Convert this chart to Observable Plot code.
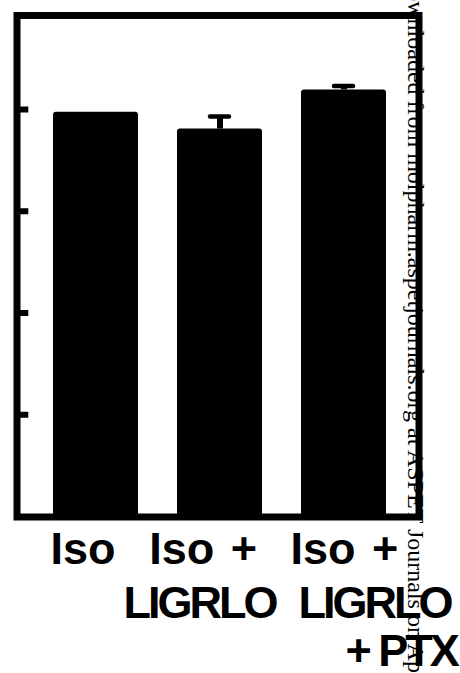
<!DOCTYPE html>
<html><head><meta charset="utf-8">
<script src="https://cdn.jsdelivr.net/npm/d3@7"></script>
<script src="https://cdn.jsdelivr.net/npm/@observablehq/plot@0.6"></script>
<style>html,body{margin:0;padding:0;background:#fff;overflow:hidden}</style>
</head><body><div id="chart"></div>
<script>
const categories = ["Iso", "Iso + LIGRLO", "Iso + LIGRLO + PTX"];
const values = [99.3, 95.2, 104.8];
const errors = [0, 3.1, 1.0];
const yTicks = [25, 50, 75, 100];
const labelLine1 = ["Iso", "Iso +", "Iso +"];
const labelLine2 = ["", "LIGRLO", "LIGRLO"];
const labelLine3 = ["", "", "+ PTX"];
const watermark = "Downloaded from molpharm.aspetjournals.org at ASPET Journals on April 18, 2024";

const rows = categories.map((c, i) => ({cat: c, value: values[i], err: errors[i]}));
const errRows = rows.filter(d => d.err > 0);

const labelStyle = {fontFamily: "'Liberation Sans', Arial, Helvetica, sans-serif", fontWeight: "bold", fontSize: 45, fill: "black", textAnchor: "start", lineAnchor: "bottom", frameAnchor: "bottom"};
const lines = [labelLine1, labelLine2, labelLine3];
const lineDy = [46.5, 100.5, 148.5];
const lineDx = [[-45.5, -70.8, -53.5], [0, -96.5, -45.5], [0, 0, 1.5]];

const labelMarks = [];
lines.forEach((line, r) => line.forEach((t, i) => {
  if (t) labelMarks.push(Plot.text([categories[i]], {x: d => d, text: () => t, dx: lineDx[r][i], dy: lineDy[r], ...labelStyle}));
}));

const svg = Plot.plot({
  width: 460,
  height: 673,
  marginLeft: 16.5,
  marginRight: 41.5,
  marginTop: 15,
  marginBottom: 156.5,
  style: {background: "white", overflow: "visible"},
  x: {domain: categories, range: [20, 413], paddingInner: 0.315, paddingOuter: 0.242, align: 0.55, axis: null},
  y: {domain: [0, 100], range: [516, 109], axis: null},
  marks: [
    Plot.barY(rows, {x: "cat", y: "value", fill: "black", rx: 3}),
    Plot.ruleX(errRows, {x: "cat", y1: "value", y2: d => d.value + d.err, stroke: "black", strokeWidth: 6}),
    Plot.tickY(errRows, {x: "cat", y: d => d.value + d.err, stroke: "black", strokeWidth: 4.5, strokeLinecap: "round", insetLeft: 33, insetRight: 33}),
    Plot.tickY(yTicks, {y: d => d, stroke: "black", strokeWidth: 6, insetLeft: 0, insetRight: 390.2}),
    Plot.frame({stroke: "black", strokeWidth: 7}),
    ...labelMarks,
    Plot.text([watermark], {text: d => d, frameAnchor: "top-right", dx: -11, dy: -43.6, rotate: 90, textAnchor: "start", lineAnchor: "bottom", fontFamily: "'Liberation Serif', 'Times New Roman', serif", fontSize: 24, fill: "black"})
  ]
});

d3.select(svg).selectAll("text")
  .filter(function () { const s = this.textContent; return s === "LIGRLO" || s === "+ PTX"; })
  .attr("letter-spacing", "-3px");
d3.select(svg).selectAll("text")
  .filter(function () { return this.textContent === "Iso +"; })
  .attr("word-spacing", "4px");

document.getElementById("chart").appendChild(svg);
</script>
</body></html>
